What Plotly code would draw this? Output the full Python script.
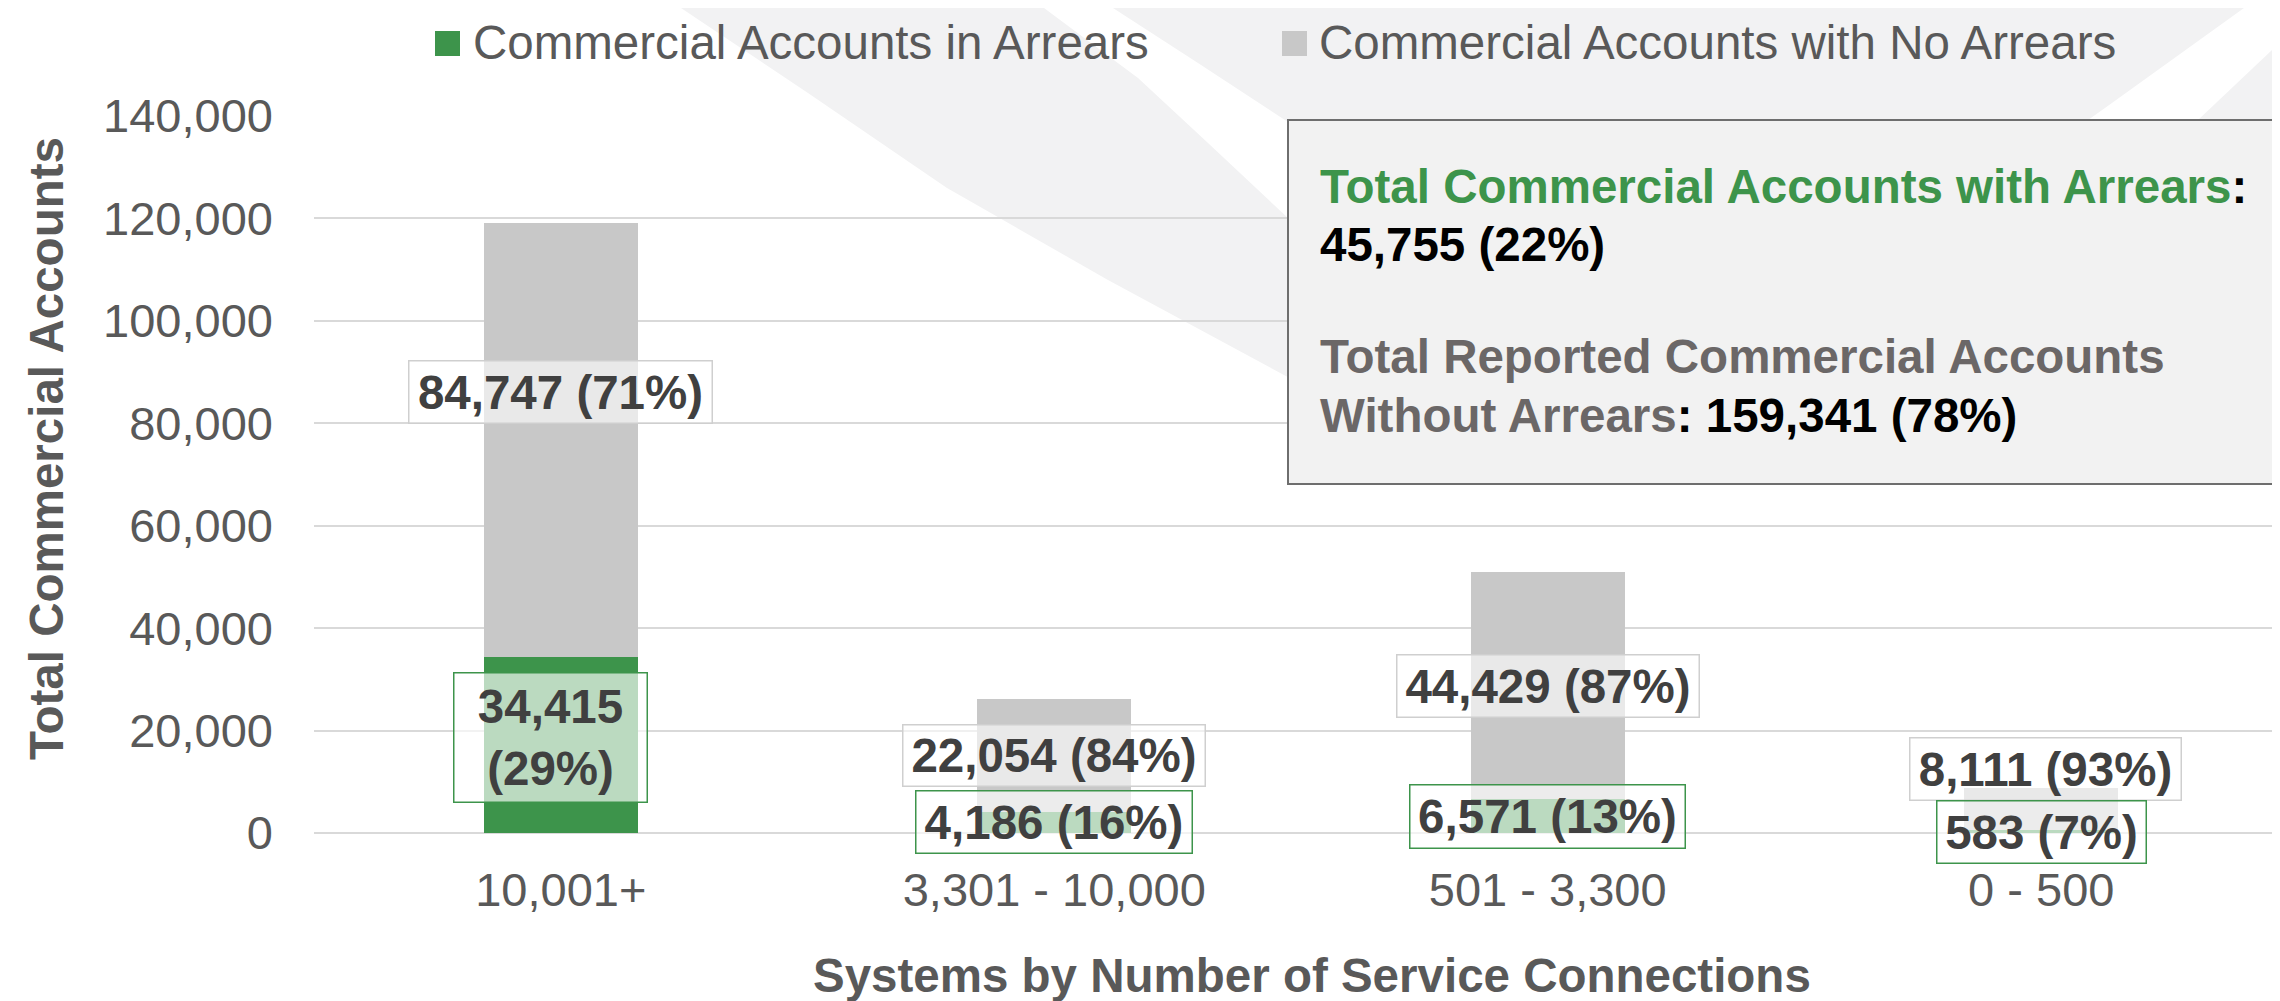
import plotly.graph_objects as go

# ---------------- data ----------------
categories = ["10,001+", "3,301 - 10,000", "501 - 3,300", "0 - 500"]
in_arrears = [34415, 4186, 6571, 583]
no_arrears = [84747, 22054, 44429, 8111]
series_names = ["Commercial Accounts in Arrears", "Commercial Accounts with No Arrears"]
y_tick_values = [0, 20000, 40000, 60000, 80000, 100000, 120000, 140000]

# ---------------- style / layout constants ----------------
GREEN = "#3D944B"
GRAY = "#C8C8C8"
TXT = "#595959"
LBL = "#404040"
FONT = "Liberation Sans, Arial, sans-serif"
FS = 47.5

W, H = 2280, 1001
ML, MR, MT, MB = 306, 0, 108, 176
PW, PH = W - ML - MR, H - MT - MB


def px(x):
    return (x - ML) / PW


def py(y):
    return (H - MB - y) / PH


# label box styling (per category): separators, sizes, manual shifts (px)
green_sep = ["<br>", " ", " ", " "]
green_box_w = [195, 278, 277, 211]
green_box_h = [131, 64, 65, 64]
green_shift = [(-10, 7), (0, 0), (0, 0), (0, 0)]
gray_box_w = [305, 304, 304, 273]
gray_box_h = [64, 63, 64, 64]
gray_shift = [(0, 48), (0, 0), (0, 0), (4, 40)]

fig = go.Figure()
fig.add_trace(go.Bar(x=categories, y=in_arrears, name=series_names[0],
                     marker=dict(color=GREEN, line=dict(width=0)), showlegend=False))
fig.add_trace(go.Bar(x=categories, y=no_arrears, name=series_names[1],
                     marker=dict(color=GRAY, line=dict(width=0)), showlegend=False))

annotations = []
for i, cat in enumerate(categories):
    a, b = in_arrears[i], no_arrears[i]
    tot = a + b
    pb = round(100 * b / tot)
    # gray (no arrears) label
    annotations.append(dict(
        x=cat, y=a + b / 2, xref="x", yref="y", showarrow=False,
        text=f"<b>{b:,} ({pb}%)</b>",
        font=dict(family=FONT, size=FS, color=LBL),
        bgcolor="rgba(255,255,255,0.6)", bordercolor="#CFCFCF", borderwidth=1.5, borderpad=0,
        width=gray_box_w[i] - 3, height=gray_box_h[i] - 3,
        xshift=gray_shift[i][0], yshift=gray_shift[i][1]))
for i, cat in enumerate(categories):
    a, b = in_arrears[i], no_arrears[i]
    tot = a + b
    pa = round(100 * a / tot)
    annotations.append(dict(
        x=cat, y=a / 2, xref="x", yref="y", showarrow=False,
        text=f"<b>{a:,}{green_sep[i]}({pa}%)</b>",
        font=dict(family=FONT, size=FS, color=LBL),
        bgcolor="rgba(255,255,255,0.65)", bordercolor=GREEN, borderwidth=1.5, borderpad=0,
        width=green_box_w[i] - 3, height=green_box_h[i] - 3,
        xshift=green_shift[i][0], yshift=green_shift[i][1]))

# axis titles
annotations.append(dict(
    x=px(38), y=py(441), xref="paper", yref="paper", showarrow=False, textangle=-90,
    text="<b>Total Commercial Accounts</b>", font=dict(family=FONT, size=FS, color=TXT),
    xanchor="center", yanchor="middle"))
annotations.append(dict(
    x=px(1304), y=py(967), xref="paper", yref="paper", showarrow=False,
    text="<b>Systems by Number of Service Connections</b>", font=dict(family=FONT, size=FS, color=TXT),
    xanchor="center", yanchor="middle"))

# custom legend
shapes = []
legend_sym_x = [427, 1274]
legend_txt_x = [463, 1309]
legend_cols = [GREEN, GRAY]
for k in range(2):
    shapes.append(dict(type="rect", xref="paper", yref="paper",
                       x0=px(legend_sym_x[k]), x1=px(legend_sym_x[k] + 25),
                       y0=py(48), y1=py(23), fillcolor=legend_cols[k], line=dict(width=0)))
    annotations.append(dict(
        x=px(legend_txt_x[k]), y=py(34), xref="paper", yref="paper", showarrow=False,
        text=series_names[k], font=dict(family=FONT, size=FS, color=TXT),
        xanchor="left", yanchor="middle"))


# background watermark swooshes
def path(points):
    return "M " + " L ".join(f"{px(x):.5f},{py(y):.5f}" for x, y in points) + " Z"


BGC = "#F2F2F3"
wedges = [
    [(673, 0), (800, 85), (939, 180), (1100, 272), (1300, 380), (1300, 225),
     (1280, 210), (1200, 135), (1130, 70), (1036, 0)],
    [(1105, 0), (2236, 0), (2097, 100), (2080, 112), (2080, 470), (1300, 470),
     (1300, 125), (1277, 112), (1190, 55)],
    [(2280, 27), (2280, 112), (2190, 112)],
]
for wpts in wedges:
    shapes.append(dict(type="path", xref="paper", yref="paper", path=path(wpts),
                       fillcolor=BGC, line=dict(width=0), layer="below"))

# summary box
shapes.append(dict(type="rect", xref="paper", yref="paper",
                   x0=px(1280), x1=px(2265), y0=py(476), y1=py(112),
                   fillcolor="#F2F2F2", line=dict(color="#6E6E6E", width=2), layer="above"))

tot_a = sum(in_arrears)
tot_b = sum(no_arrears)
grand = tot_a + tot_b
box_lines = [
    (178, f"<span style='color:{GREEN}'>Total Commercial Accounts with Arrears</span>:"),
    (236, f"{tot_a:,} ({round(100 * tot_a / grand)}%)"),
    (348, "<span style='color:#6B6767'>Total Reported Commercial Accounts</span>"),
    (407, f"<span style='color:#6B6767'>Without Arrears</span>: {tot_b:,} ({round(100 * tot_b / grand)}%)"),
]
for yy, t in box_lines:
    annotations.append(dict(
        x=px(1310), y=py(yy), xref="paper", yref="paper", showarrow=False,
        text=f"<b>{t}</b>", font=dict(family=FONT, size=FS, color="#000000"),
        xanchor="left", yanchor="middle"))

fig.update_layout(
    width=W, height=H,
    margin=dict(l=ML, r=MR, t=MT, b=MB, pad=0),
    barmode="stack", bargap=0.688,
    paper_bgcolor="white", plot_bgcolor="rgba(0,0,0,0)",
    showlegend=False,
    font=dict(family=FONT, color=TXT),
    xaxis=dict(type="category", showgrid=False, zeroline=False, showline=False, ticks="",
               tickfont=dict(family=FONT, size=47, color=TXT), ticklabelstandoff=25),
    yaxis=dict(range=[0, 140000], tickvals=y_tick_values, tickformat=",",
               showgrid=True, gridcolor="#D9D9D9", gridwidth=2,
               zeroline=True, zerolinecolor="#D9D9D9", zerolinewidth=2,
               showline=False, ticks="",
               tickfont=dict(family=FONT, size=47, color=TXT), ticklabelstandoff=40),
    annotations=annotations,
    shapes=shapes,
)

fig.write_html("out.html")
